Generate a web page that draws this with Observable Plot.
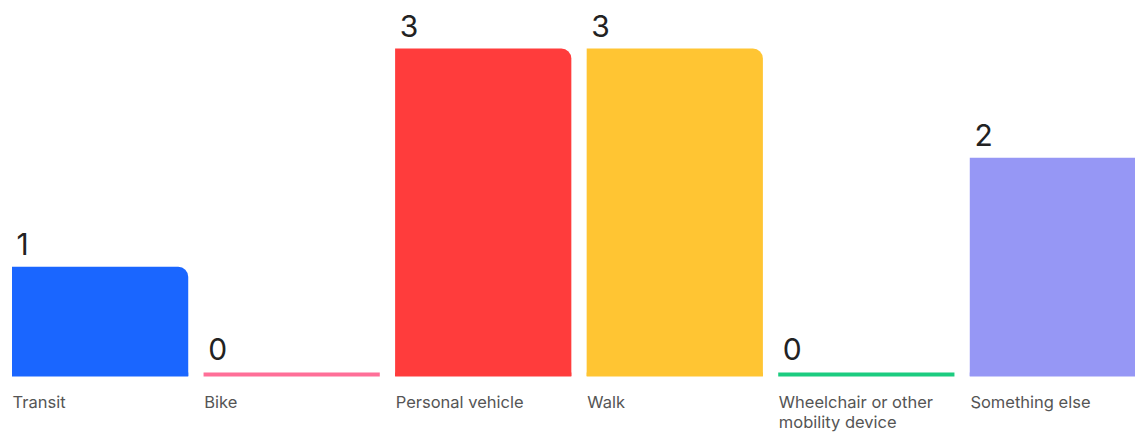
<!DOCTYPE html>
<html>
<head>
<meta charset="utf-8">
<script src="https://cdn.jsdelivr.net/npm/d3@7"></script>
<script src="https://cdn.jsdelivr.net/npm/@observablehq/plot@0.6"></script>
<style>
  html, body { margin: 0; padding: 0; background: #fff; overflow: hidden; }
  #chart svg { display: block; max-width: none; }
</style>
</head>
<body>
<div id="chart"></div>
<script>
const categories = ["Transit", "Bike", "Personal vehicle", "Walk", "Wheelchair or other mobility device", "Something else"];
const values = [1, 0, 3, 3, 0, 2];
const colors = ["#1a66ff", "#ff6f98", "#ff3c3c", "#ffc533", "#1ccc80", "#9697f5"];

const rows = categories.map((c, i) => ({cat: c, value: values[i]}));
const zeroLift = 0.037; // visible thickness of zero bars in data units

const chart = Plot.plot({
  width: 1135,
  height: 436,
  marginLeft: 0, marginRight: 0, marginTop: 0, marginBottom: 0,
  style: {fontFamily: "Inter, 'Open Sans', sans-serif", background: "#fff", overflow: "hidden"},
  x: {domain: categories, range: [12, 1146], paddingInner: 0.08, paddingOuter: 0, round: false, axis: null},
  y: {domain: [0, 3], range: [376, 48.5], axis: null},
  color: {domain: categories, range: colors},
  marks: [
    Plot.tickY(rows, {x: "cat", y: () => 0, stroke: "cat", strokeWidth: 4, dy: -2}),
    Plot.barY(rows.filter(d => d.value > 0), {x: "cat", y: "value", fill: "cat", rx2y1: 10}),
    Plot.text(rows, {
      x: "cat", y: d => Math.max(d.value, zeroLift), text: d => String(d.value),
      textAnchor: "start", lineAnchor: "bottom", dx: -84, dy: -12,
      fontSize: 30, fill: "#222"
    }),
    Plot.text(rows, {
      x: "cat", y: () => 0, text: "cat",
      textAnchor: "start", lineAnchor: "top", dx: -88, dy: 17,
      fontSize: 16.5, fill: "#555", lineWidth: 10.6, lineHeight: 1.22
    })
  ]
});
document.getElementById("chart").appendChild(chart);
</script>
</body>
</html>
